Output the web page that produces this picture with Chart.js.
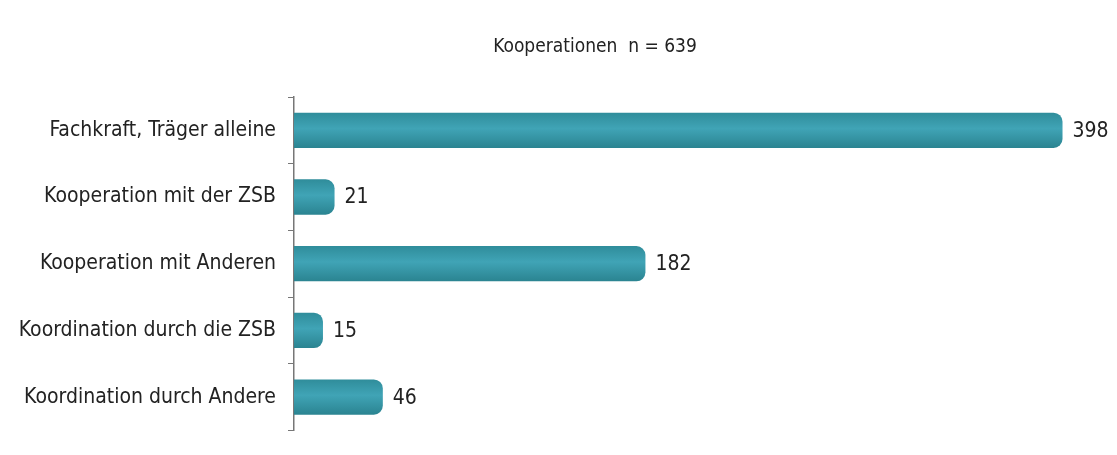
<!DOCTYPE html>
<html>
<head>
<meta charset="utf-8">
<script src="https://cdn.jsdelivr.net/npm/chart.js@4/dist/chart.umd.min.js"></script>
<style>
  html, body { margin: 0; padding: 0; background: #fff; }
  #wrap { width: 1117px; height: 455px; }
</style>
</head>
<body>
<div id="wrap"><canvas id="myChart"></canvas></div>
<script>
const categories = [
    'Fachkraft, Träger alleine',
    'Kooperation mit der ZSB',
    'Kooperation mit Anderen',
    'Koordination durch die ZSB',
    'Koordination durch Andere'
];
const counts = [398, 21, 182, 15, 46];
const titleText = 'Kooperationen  n = 639';

const FONT = "'Liberation Sans Narrow', 'Arial Narrow', 'DejaVu Sans Condensed', sans-serif";

// cylinder-ish shading per bar
function barFill(context) {
    const chart = context.chart;
    if (!chart.chartArea) return '#3a9cae';
    const y = chart.scales.y.getPixelForValue(context.dataIndex);
    const h = 18;
    const g = chart.ctx.createLinearGradient(0, y - h, 0, y + h);
    g.addColorStop(0, '#2f8c9a');
    g.addColorStop(0.45, '#40a4b6');
    g.addColorStop(1, '#2a8390');
    return g;
}

// numbers right of the bars
const valueLabels = {
    id: 'valueLabels',
    afterDatasetsDraw(chart) {
        const ctx = chart.ctx;
        const meta = chart.getDatasetMeta(0);
        ctx.save();
        ctx.font = '21px ' + FONT;
        ctx.fillStyle = '#222';
        ctx.textBaseline = 'middle';
        meta.data.forEach((bar, i) => {
            ctx.fillText(counts[i], bar.x + 10, bar.y + 1);
        });
        ctx.restore();
    }
};

// title sits a bit right of the canvas centre
const topTitle = {
    id: 'topTitle',
    afterDraw(chart) {
        const ctx = chart.ctx;
        ctx.save();
        ctx.font = '19px ' + FONT;
        ctx.fillStyle = '#222';
        ctx.textAlign = 'center';
        ctx.textBaseline = 'middle';
        ctx.fillText(titleText, 595, 47);
        ctx.restore();
    }
};

const ctx = document.getElementById('myChart').getContext('2d');

const myChart = new Chart(ctx, {
    type: 'bar',
    data: {
        labels: categories,
        datasets: [{
            data: counts,
            backgroundColor: barFill,
            borderRadius: {topRight: 9, bottomRight: 9},
            borderSkipped: 'left',
            categoryPercentage: 1,
            barPercentage: 0.53
        }]
    },
    options: {
        indexAxis: 'y',
        responsive: true,
        maintainAspectRatio: false,
        animation: false,
        layout: {
            padding: {top: 97, bottom: 16, left: 0, right: 12}
        },
        plugins: {
            legend: {display: false},
            tooltip: {enabled: false},
            title: {display: false}
        },
        scales: {
            x: {
                display: false,
                min: 0,
                max: 420
            },
            y: {
                afterFit(scale) { scale.width = 294; },
                border: {display: true, color: '#777', width: 1.5},
                grid: {
                    display: true,
                    drawOnChartArea: false,
                    drawTicks: true,
                    tickLength: 6,
                    color: '#777',
                    offset: true
                },
                ticks: {
                    color: '#222',
                    padding: 12,
                    font: {family: FONT, size: 21}
                }
            }
        }
    },
    plugins: [valueLabels, topTitle]
});
</script>
</body>
</html>
